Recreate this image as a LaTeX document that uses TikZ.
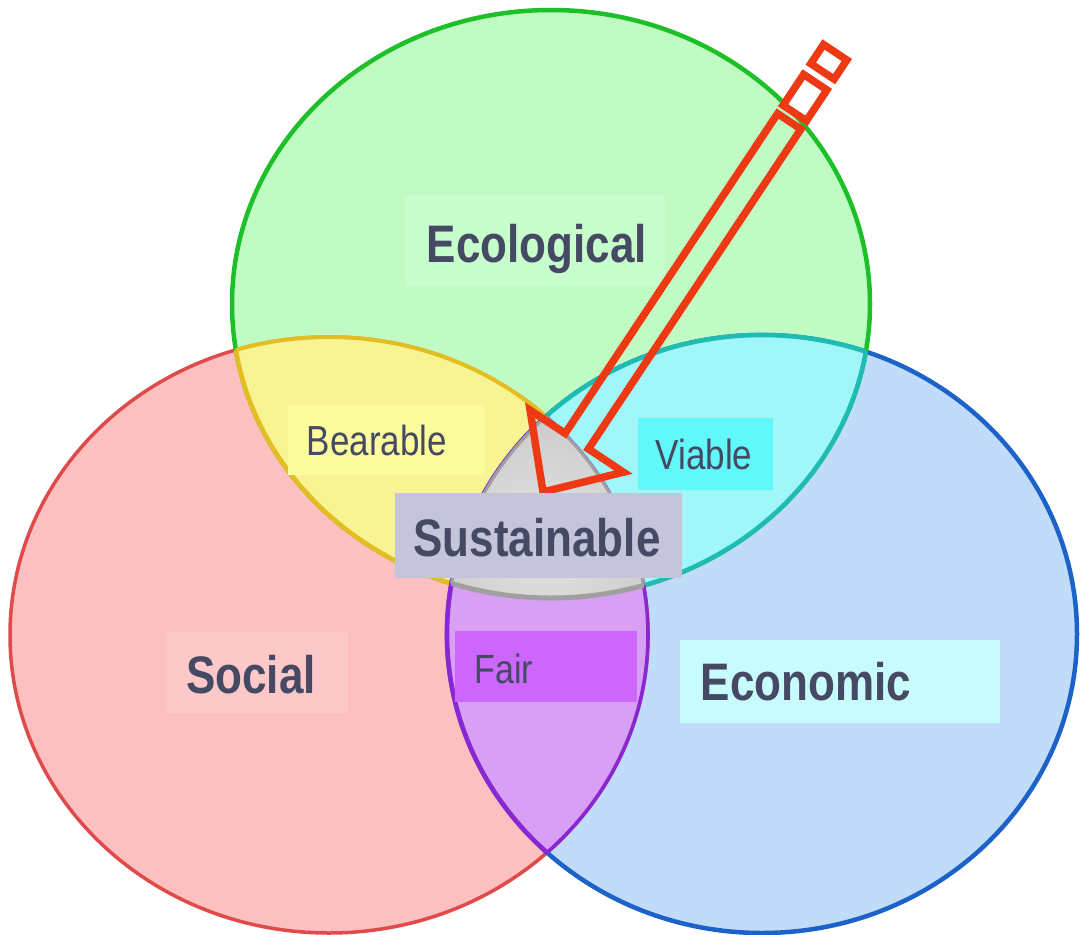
\documentclass[tikz,border=0pt]{standalone}
\usepackage{fontspec}
\setmainfont{Liberation Sans}
\usepackage{graphicx}
\definecolor{gfill}{HTML}{C1FBC4}
\definecolor{rfill}{HTML}{FCC0C0}
\definecolor{bfill}{HTML}{C0DCF8}
\definecolor{gline}{HTML}{1EC02A}
\definecolor{rline}{HTML}{E04A4A}
\definecolor{bline}{HTML}{1C62C8}
\definecolor{yfill}{HTML}{F8F494}
\definecolor{yline}{HTML}{E4BE20}
\definecolor{cfill}{HTML}{A0F6F8}
\definecolor{cline}{HTML}{1EBCB2}
\definecolor{pfill}{HTML}{D8A0F4}
\definecolor{pline}{HTML}{8A26D2}
\definecolor{sfill}{HTML}{CFCFCF}
\definecolor{sinner}{HTML}{E4E4E4}
\definecolor{souter}{HTML}{C6C6C6}
\definecolor{sline}{HTML}{A0A0A0}
\definecolor{arrowred}{HTML}{EE3A14}
\definecolor{txt}{HTML}{454963}
\definecolor{ecobox}{HTML}{C8FDCC}
\definecolor{bearbox}{HTML}{FCFC9C}
\definecolor{viabox}{HTML}{60F8F8}
\definecolor{susbox}{HTML}{C4C4DA}
\definecolor{fairbox}{HTML}{CC66FC}
\definecolor{econbox}{HTML}{C8FCFC}
\definecolor{socbox}{HTML}{FCC8C8}
\newcommand\vstretch[1]{\scalebox{1}[1.2]{#1}}
\begin{document}
\begin{tikzpicture}[x=1pt,y=-1pt,
  biglabel/.style={text=txt, font=\fontsize{44}{50}\selectfont\bfseries, inner sep=0pt, anchor=base},
  smalllabel/.style={text=txt, font=\fontsize{35}{40}\selectfont, inner sep=0pt, anchor=base},
  fairlabel/.style={text=txt, font=\fontsize{34}{40}\selectfont, inner sep=0pt, anchor=base},
  arrowline/.style={draw=arrowred, line width=7.5pt, line join=miter}]
\def\CG{(551,304) ellipse [x radius=319pt, y radius=294pt]}
\def\CR{(329,635) ellipse [x radius=319pt, y radius=298pt]}
\def\CB{(762,634) ellipse [x radius=315pt, y radius=299pt]}
\fill[white] (0,0) rectangle (1080,935);
\useasboundingbox (0,0) rectangle (1080,935);
% circles
\fill[rfill] \CR;
\fill[bfill] \CB;
\fill[gfill] \CG;
\draw[rline, line width=3.5pt] \CR;
\draw[bline, line width=4.5pt] \CB;
\draw[gline, line width=4.5pt] \CG;
% yellow lens (social & ecological)
\begin{scope}
  \clip \CG;
  \fill[yfill] \CR;
  \draw[yline, line width=4pt] \CR;
\end{scope}
\begin{scope}
  \clip \CR;
  \draw[yline, line width=4.6pt] \CG;
\end{scope}
% cyan lens (ecological & economic)
\begin{scope}
  \clip \CG;
  \fill[cfill] \CB;
  \draw[cline, line width=4.6pt] \CB;
\end{scope}
\begin{scope}
  \clip \CB;
  \draw[cline, line width=4.6pt] \CG;
\end{scope}
% purple lens (social & economic)
\begin{scope}
  \clip \CR;
  \fill[pfill] \CB;
  \draw[pline, line width=4.6pt] \CB;
\end{scope}
\begin{scope}
  \clip \CB;
  \draw[pline, line width=3.6pt] \CR;
\end{scope}
% triple region
\begin{scope}
  \clip \CG; \clip \CR; \clip \CB;
  \fill[sfill] (430,380) rectangle (670,620);
  \shade[inner color=sinner, outer color=souter] (545,540) circle (150pt);
\end{scope}
\begin{scope}
  \clip \CG; \clip \CR;
  \draw[sline, line width=3pt] \CB;
\end{scope}
\begin{scope}
  \clip \CG; \clip \CB;
  \draw[sline, line width=3pt] \CR;
\end{scope}
\begin{scope}
  \clip \CR; \clip \CB;
  \draw[sline, line width=5pt] \CG;
\end{scope}
% label boxes
\fill[ecobox] (405,195) rectangle (665,287);
\fill[bearbox] (288,405) rectangle (485,475);
\fill[viabox] (638,418) rectangle (773,490);
\fill[fairbox] (455,631) rectangle (637,702);
\fill[econbox] (680,640) rectangle (1000,723);
\fill[socbox] (167,632) rectangle (348,713);
% hollow arrow
\begin{scope}[shift={(543,492)}, rotate=56.4]
  \draw[arrowline] (0,0) -- (61,56) -- (61,14) -- (445,14) -- (445,-14)
    -- (61,-14) -- (61,-56) -- cycle;
  \draw[arrowline] (455,14) rectangle (492,-14);
  \draw[arrowline] (505,14) rectangle (528,-14);
\end{scope}
\fill[susbox] (395,493) rectangle (682,578);
% labels
\node[biglabel] (eco) at (537,262) {\vstretch{Ecological}};
\node[smalllabel] (bear) at (377,455) {\vstretch{Bearable}};
\node[smalllabel] (via) at (704,469) {\vstretch{Viable}};
\node[biglabel] (sus) at (537,556) {\vstretch{Sustainable}};
\node[fairlabel] (fair) at (504,683) {\vstretch{Fair}};
\node[biglabel] (econ) at (806,700) {\vstretch{Economic}};
\node[biglabel] (soc) at (251,693) {\vstretch{Social}};
\end{tikzpicture}
\end{document}
